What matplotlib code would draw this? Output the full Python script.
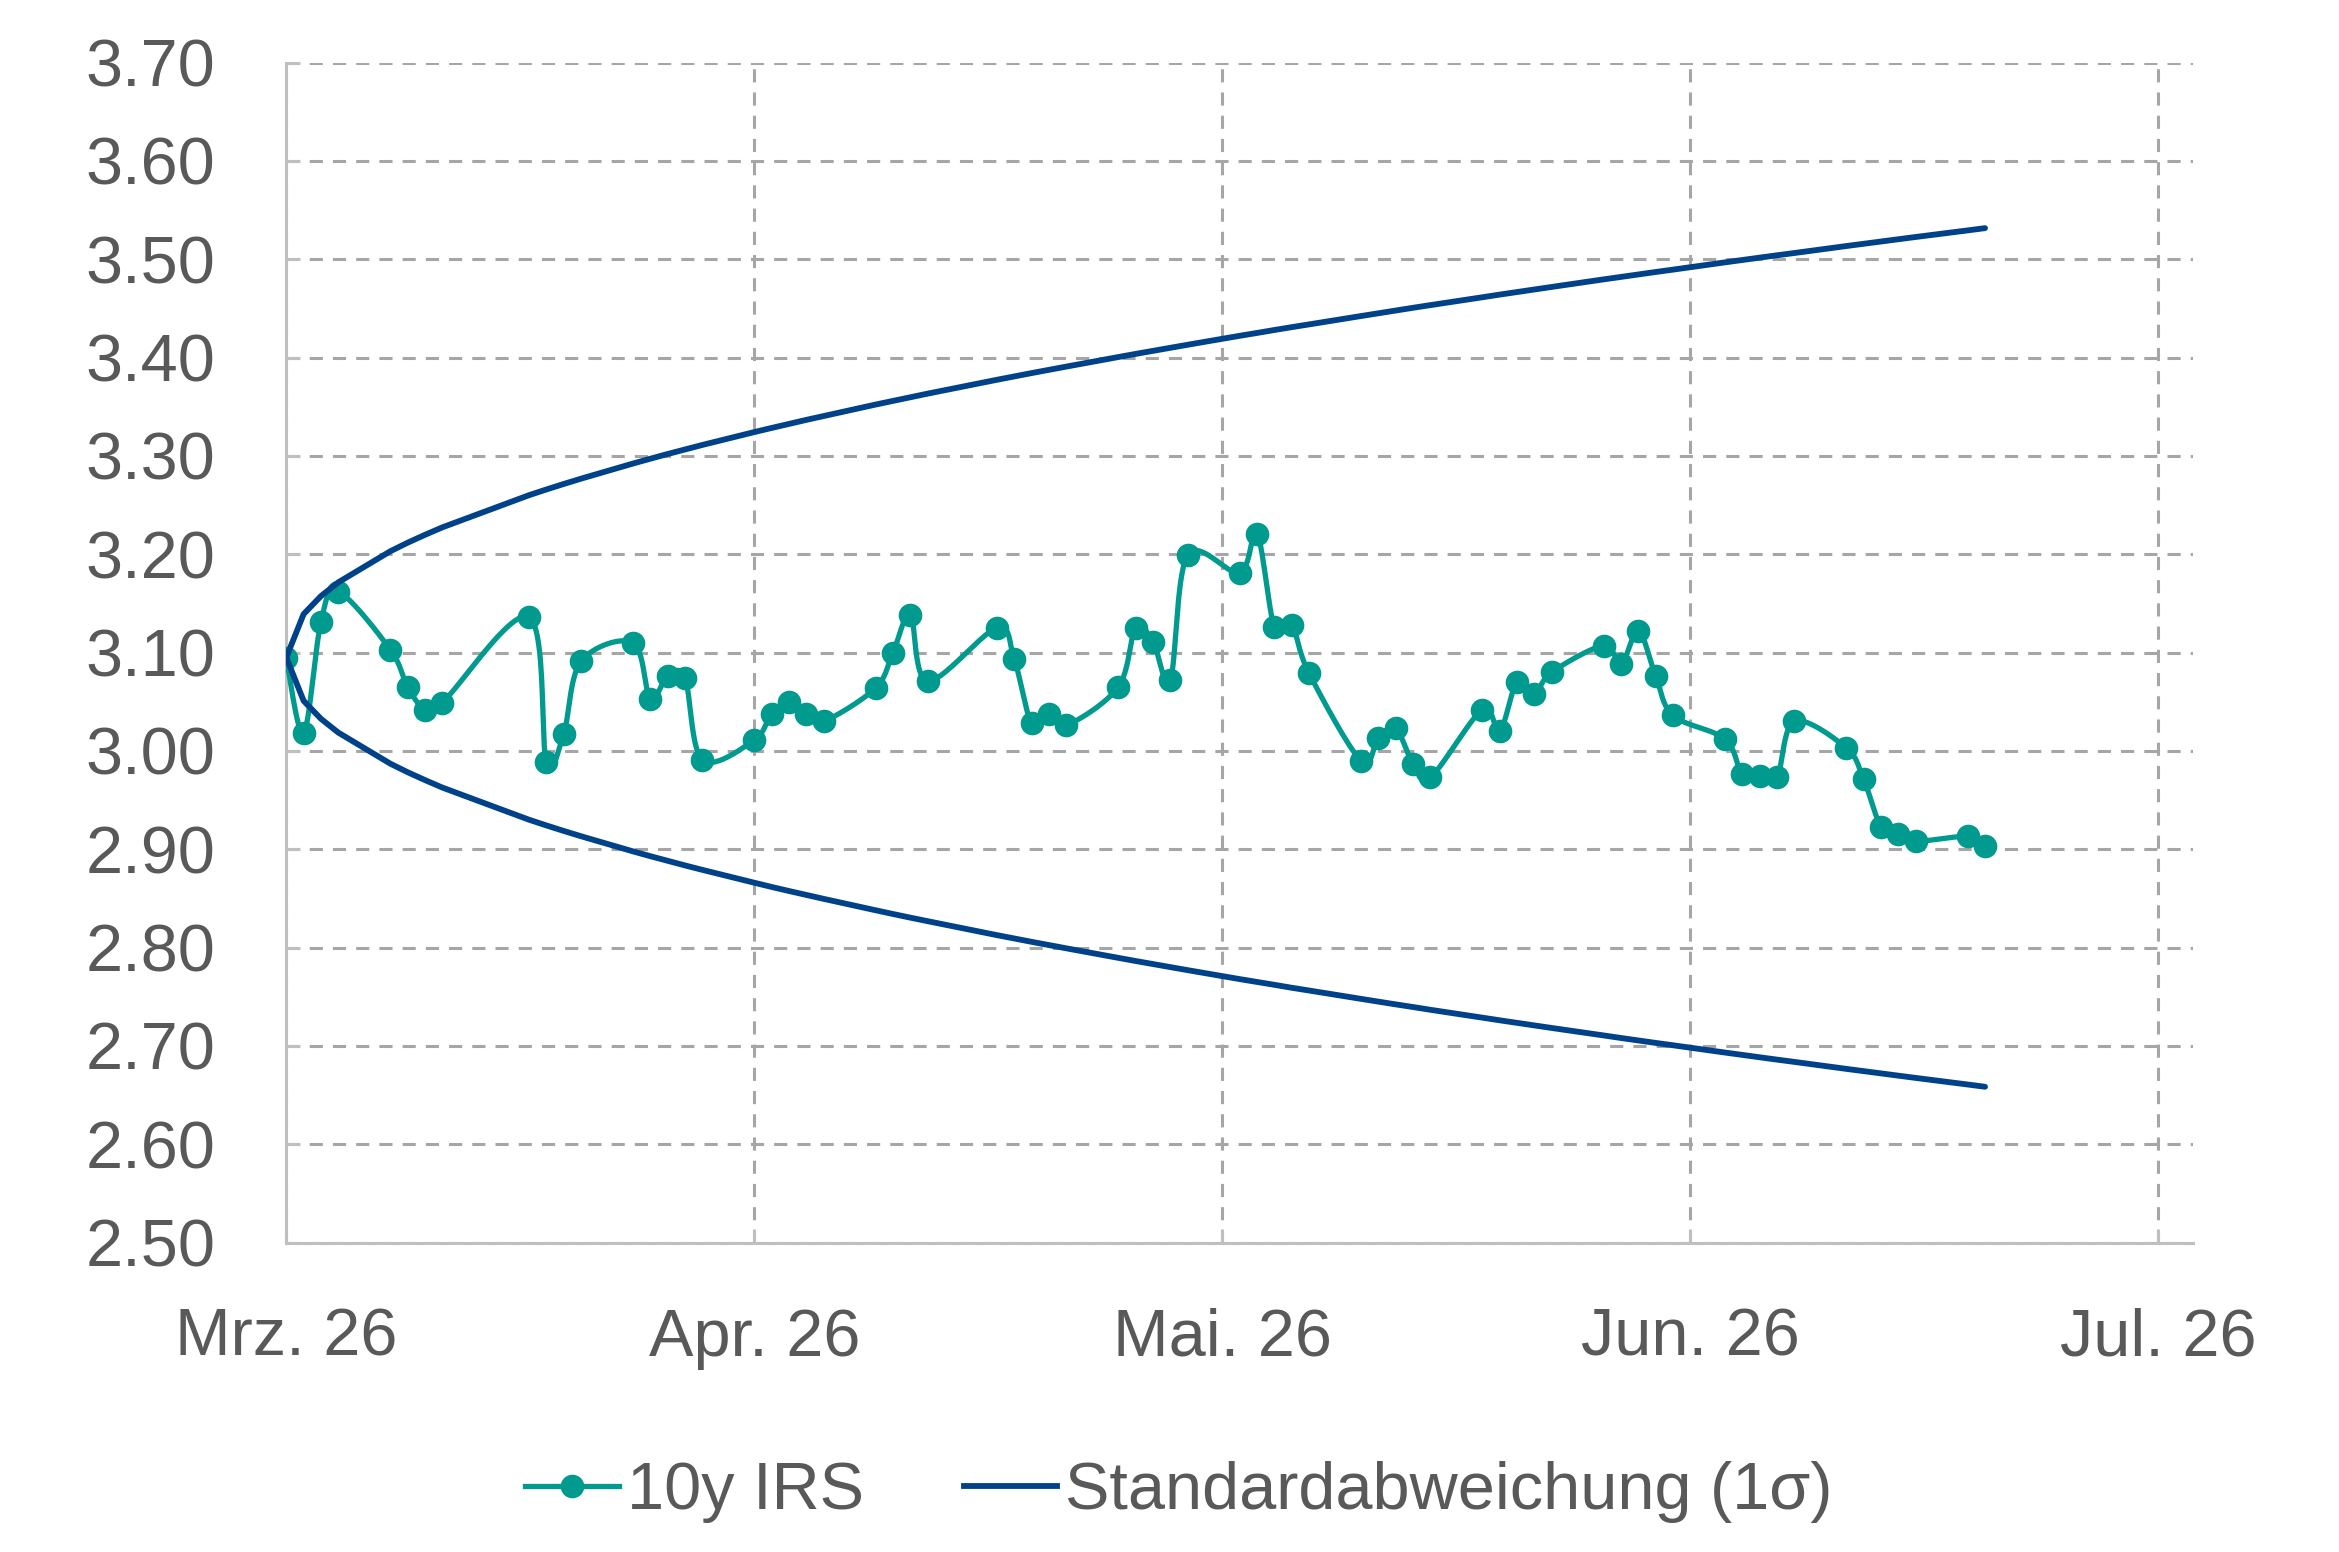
import matplotlib
matplotlib.use("Agg")
import matplotlib.pyplot as plt
import matplotlib.dates as mdates
from matplotlib.lines import Line2D
import numpy as np
import datetime as dt

plt.rcParams['font.family'] = ['Liberation Sans', 'DejaVu Sans']

# ---------------- data ----------------
dates = [
    "2026-03-24", "2026-03-25", "2026-03-26", "2026-03-27",
    "2026-03-30", "2026-03-31", "2026-04-01", "2026-04-02",
    "2026-04-07", "2026-04-08", "2026-04-09", "2026-04-10",
    "2026-04-13", "2026-04-14", "2026-04-15", "2026-04-16", "2026-04-17",
    "2026-04-20", "2026-04-21", "2026-04-22", "2026-04-23", "2026-04-24",
    "2026-04-27", "2026-04-28", "2026-04-29", "2026-04-30",
    "2026-05-04", "2026-05-05", "2026-05-06", "2026-05-07", "2026-05-08",
    "2026-05-11", "2026-05-12", "2026-05-13", "2026-05-14", "2026-05-15",
    "2026-05-18", "2026-05-19", "2026-05-20", "2026-05-21", "2026-05-22",
    "2026-05-25", "2026-05-26", "2026-05-27", "2026-05-28", "2026-05-29",
    "2026-06-01", "2026-06-02", "2026-06-03", "2026-06-04", "2026-06-05",
    "2026-06-08", "2026-06-09", "2026-06-10", "2026-06-11", "2026-06-12",
    "2026-06-15", "2026-06-16", "2026-06-17", "2026-06-18", "2026-06-19",
    "2026-06-22", "2026-06-23", "2026-06-24", "2026-06-25", "2026-06-26",
    "2026-06-29", "2026-06-30",
]

irs_10y = [
    3.094, 3.018, 3.131, 3.162, 3.103, 3.065, 3.042, 3.049, 3.136, 2.989,
    3.017, 3.091, 3.110, 3.053, 3.076, 3.074, 2.991, 3.011, 3.038, 3.050,
    3.037, 3.030, 3.064, 3.100, 3.138, 3.071, 3.125, 3.093, 3.028, 3.038,
    3.026, 3.065, 3.125, 3.111, 3.072, 3.199, 3.181, 3.221, 3.126, 3.128,
    3.079, 2.990, 3.013, 3.023, 2.987, 2.973, 3.042, 3.020, 3.070, 3.058,
    3.080, 3.107, 3.088, 3.122, 3.076, 3.036, 3.012, 2.976, 2.974, 2.973,
    3.030, 3.003, 2.971, 2.923, 2.915, 2.908, 2.913, 2.903,
]

std_upper = [
    3.0950, 3.1391, 3.1574, 3.1714, 3.2030, 3.2117, 3.2197, 3.2273, 3.2600, 3.2658,
    3.2714, 3.2768, 3.2922, 3.2971, 3.3019, 3.3065, 3.3111, 3.3242, 3.3284, 3.3325,
    3.3366, 3.3405, 3.3522, 3.3559, 3.3596, 3.3633, 3.3774, 3.3808, 3.3842, 3.3875,
    3.3908, 3.4005, 3.4037, 3.4068, 3.4099, 3.4130, 3.4221, 3.4250, 3.4280, 3.4309,
    3.4337, 3.4422, 3.4450, 3.4478, 3.4506, 3.4533, 3.4613, 3.4640, 3.4666, 3.4692,
    3.4718, 3.4795, 3.4820, 3.4845, 3.4870, 3.4894, 3.4968, 3.4992, 3.5016, 3.5040,
    3.5063, 3.5134, 3.5157, 3.5180, 3.5203, 3.5226, 3.5293, 3.5316,
]

std_lower = [
    3.0950, 3.0509, 3.0326, 3.0186, 2.9870, 2.9783, 2.9703, 2.9627, 2.9300, 2.9242,
    2.9186, 2.9132, 2.8978, 2.8929, 2.8882, 2.8835, 2.8790, 2.8659, 2.8616, 2.8575,
    2.8535, 2.8495, 2.8379, 2.8341, 2.8304, 2.8268, 2.8126, 2.8092, 2.8058, 2.8025,
    2.7992, 2.7895, 2.7863, 2.7832, 2.7801, 2.7770, 2.7679, 2.7650, 2.7621, 2.7591,
    2.7563, 2.7478, 2.7450, 2.7422, 2.7395, 2.7367, 2.7287, 2.7260, 2.7234, 2.7208,
    2.7182, 2.7106, 2.7080, 2.7055, 2.7030, 2.7006, 2.6932, 2.6908, 2.6884, 2.6860,
    2.6837, 2.6766, 2.6743, 2.6720, 2.6697, 2.6674, 2.6607, 2.6584,
]

tick_dates = ["2026-03-24", "2026-04-20", "2026-05-17", "2026-06-13", "2026-07-10"]
tick_labels = ["Mrz. 26", "Apr. 26", "Mai. 26", "Jun. 26", "Jul. 26"]
y_ticks = [2.50, 2.60, 2.70, 2.80, 2.90, 3.00, 3.10, 3.20, 3.30, 3.40, 3.50, 3.60, 3.70]

series_names = ["10y IRS", "Standardabweichung (1\u03c3)"]

# ---------------- styling ----------------
TEAL = "#009A8F"
NAVY = "#00428A"
GRID = "#A6A6A6"
SPINE = "#BFBFBF"
TXT = "#595959"
FS = 48
LW_IRS = 3.8
LW_STD = 4.2
MS = 17


def to_num(ds):
    return mdates.date2num([dt.datetime.strptime(d, "%Y-%m-%d") for d in ds])


def smooth_path(x, y, n=24, t=1/6):
    """Excel-like smoothed line (cubic Bezier between points)."""
    P = np.column_stack([np.asarray(x, float), np.asarray(y, float)])
    out = [P[0]]
    s = np.linspace(0, 1, n + 1)[1:, None]
    for i in range(len(P) - 1):
        p0 = P[i - 1] if i > 0 else P[i]
        p1 = P[i]
        p2 = P[i + 1]
        p3 = P[i + 2] if i + 2 < len(P) else P[i + 1]
        c1 = p1 + (p2 - p0) * t
        c2 = p2 - (p3 - p1) * t
        B = (1 - s) ** 3 * p1 + 3 * (1 - s) ** 2 * s * c1 + 3 * (1 - s) * s ** 2 * c2 + s ** 3 * p2
        out.extend(B)
    out = np.array(out)
    return out[:, 0], out[:, 1]


x = to_num(dates)
xt = to_num(tick_dates)

fig = plt.figure(figsize=(23.39, 15.52), dpi=100)
ax = fig.add_axes([0.1224, 0.1994, 0.9376 - 0.1224, 0.9597 - 0.1994])

# IRS line (smoothed) + markers
sx, sy = smooth_path(x, irs_10y)
ax.plot(sx, sy, color=TEAL, lw=LW_IRS, zorder=3, solid_capstyle='round',
        solid_joinstyle='round')
ax.plot(x, irs_10y, ls='none', marker='o', ms=MS, mew=0, color=TEAL, zorder=4)

# standard deviation band
ax.plot(x, std_upper, color=NAVY, lw=LW_STD, zorder=5, solid_capstyle='round',
        solid_joinstyle='round')
ax.plot(x, std_lower, color=NAVY, lw=LW_STD, zorder=5, solid_capstyle='round',
        solid_joinstyle='round')

# axes limits
ax.set_ylim(y_ticks[0], y_ticks[-1])
ax.set_xlim(xt[0], xt[-1] + 2)

ax.set_yticks(y_ticks)
ax.set_yticklabels([f"{v:.2f}" for v in y_ticks])
ax.set_xticks(xt)
ax.set_xticklabels(tick_labels)

dash = (0, (4.3, 3.3))
ax.grid(True, which='major', axis='both', color=GRID, lw=2.2, linestyle=dash, zorder=1)
ax.set_axisbelow(True)

for side in ['top', 'right']:
    ax.spines[side].set_visible(False)
for side in ['left', 'bottom']:
    ax.spines[side].set_color(SPINE)
    ax.spines[side].set_linewidth(2.2)

ax.tick_params(axis='y', direction='in', length=10, width=2.2, color=SPINE,
               labelsize=FS, labelcolor=TXT, pad=51)
ax.tick_params(axis='x', direction='in', length=10, width=2.2, color=SPINE,
               labelsize=FS, labelcolor=TXT, pad=47)

# legend
handles = [
    Line2D([], [], color=TEAL, lw=LW_IRS, marker='o', ms=MS, mew=0),
    Line2D([], [], color=NAVY, lw=LW_STD),
]
fig.legend(handles, series_names, loc='center', bbox_to_anchor=(0.504, 0.0387),
           ncol=2, frameon=False, fontsize=FS, labelcolor=TXT,
           handlelength=1.4, handletextpad=0.12, columnspacing=1.5,
           borderaxespad=0, borderpad=0)

fig.savefig("out.png", dpi=100)
